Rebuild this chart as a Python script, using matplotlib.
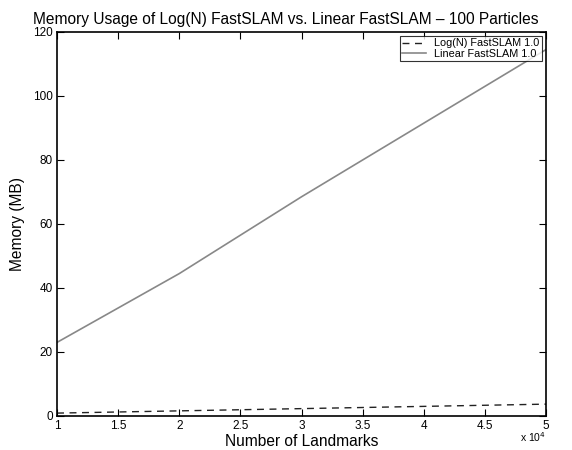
import matplotlib
matplotlib.use("Agg")
import matplotlib.pyplot as plt
import matplotlib.ticker as ticker

plt.rcParams["font.family"] = ["Liberation Sans", "DejaVu Sans"]

landmarks = [10000, 20000, 30000, 40000, 50000]
log_mem = [0.9, 1.6, 2.3, 3.0, 3.7]
linear_mem = [23.0, 44.5, 68.5, 91.5, 114.5]

fig = plt.figure(figsize=(5.72, 4.5), dpi=100)
ax = fig.add_axes([0.0997, 0.0756, 0.8548, 0.8533])

ax.plot(landmarks, log_mem, linestyle=(0, (5, 4)), color="#222222",
        linewidth=1.0, label="Log(N) FastSLAM 1.0")
ax.plot(landmarks, linear_mem, color="#888888", linewidth=1.2,
        label="Linear FastSLAM 1.0")

ax.set_xlim(10000, 50000)
ax.set_ylim(0, 120)
ax.set_xticks([10000 + 5000 * i for i in range(9)])
ax.xaxis.set_major_formatter(ticker.FuncFormatter(lambda v, _: f"{v/1e4:g}"))
ax.set_yticks(range(0, 121, 20))
ax.tick_params(direction="in", top=True, right=True, labelsize=8.5, length=5,
               width=0.8, pad=3)
for s in ax.spines.values():
    s.set_linewidth(1.2)

ax.set_title("Memory Usage of Log(N) FastSLAM vs. Linear FastSLAM \u2013 100 Particles",
             fontsize=11.2, pad=6, x=0.468)
ax.set_xlabel("Number of Landmarks", fontsize=11.2, labelpad=1)
ax.set_ylabel("Memory (MB)", fontsize=11.2, labelpad=6)
ax.text(1.0, -0.055, "x 10$^{4}$", transform=ax.transAxes, ha="right",
        va="center", fontsize=7.5)

leg = ax.legend(loc="upper right", fontsize=7.8, frameon=True, fancybox=False,
                edgecolor="black", borderpad=0.2, handlelength=2.2,
                labelspacing=0.05, borderaxespad=0.4)
leg.get_frame().set_linewidth(0.8)

fig.savefig("out.png", dpi=100)
